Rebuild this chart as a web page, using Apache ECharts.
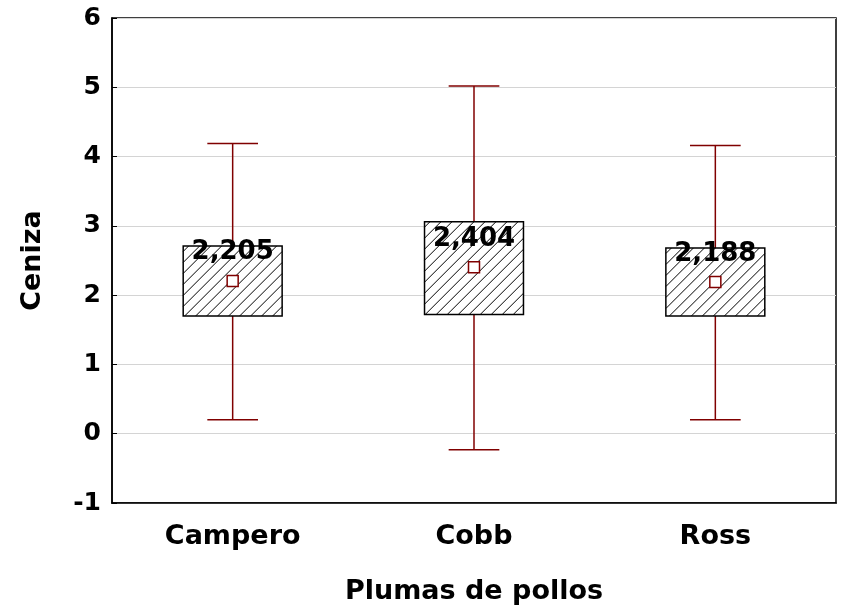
<!DOCTYPE html>
<html><head><meta charset="utf-8">
<script src="https://cdn.jsdelivr.net/npm/echarts@6/dist/echarts.min.js"></script>
<style>html,body{margin:0;padding:0;background:#fff}#c{width:844px;height:611px}</style>
</head><body><div id="c"></div>
<script>
const categories = ['Campero', 'Cobb', 'Ross'];
const whiskerLow = [0.20, -0.23, 0.20];
const boxLow = [1.70, 1.72, 1.70];
const means = [2.205, 2.404, 2.188];
const boxHigh = [2.71, 3.06, 2.68];
const whiskerHigh = [4.19, 5.02, 4.16];
const meanLabels = ['2,205', '2,404', '2,188'];
const yTicks = [-1, 0, 1, 2, 3, 4, 5, 6];

const maroon = '#800000';
const FONT = '"DejaVu Sans", sans-serif';

const boxData = categories.map((c, i) => [i, whiskerLow[i], boxLow[i], boxHigh[i], whiskerHigh[i]]);

function renderBox(params, api) {
  const i = api.value(0);
  const pLow = api.coord([i, api.value(1)]);
  const pB0 = api.coord([i, api.value(2)]);
  const pB1 = api.coord([i, api.value(3)]);
  const pHigh = api.coord([i, api.value(4)]);
  const band = api.size([1, 0])[0];
  const bw = band * 0.41;
  const cw = band * 0.21;
  const x = pLow[0];
  const children = [];
  const ls = {stroke: maroon, lineWidth: 1.5};
  children.push({type: 'line', shape: {x1: x, y1: pLow[1], x2: x, y2: pHigh[1]}, style: ls});
  children.push({type: 'line', shape: {x1: x - cw/2, y1: pLow[1], x2: x + cw/2, y2: pLow[1]}, style: ls});
  children.push({type: 'line', shape: {x1: x - cw/2, y1: pHigh[1], x2: x + cw/2, y2: pHigh[1]}, style: ls});
  const x0 = x - bw/2, x1 = x + bw/2, y0 = pB1[1], y1 = pB0[1];
  children.push({type: 'rect', shape: {x: x0, y: y0, width: bw, height: y1 - y0}, style: {fill: '#fff', stroke: null}});
  const step = 11;
  for (let c = x0 + y0 + step/2; c < x1 + y1; c += step) {
    const sx = Math.max(x0, c - y1), ex = Math.min(x1, c - y0);
    if (ex > sx) {
      children.push({type: 'line', shape: {x1: sx, y1: c - sx, x2: ex, y2: c - ex}, style: {stroke: '#000', lineWidth: 1}});
    }
  }
  children.push({type: 'rect', shape: {x: x0, y: y0, width: bw, height: y1 - y0}, style: {fill: 'none', stroke: '#000', lineWidth: 1.5}});
  return {type: 'group', children};
}

const chart = echarts.init(document.getElementById('c'));
chart.setOption({
  animation: false,
  backgroundColor: '#fff',
  grid: {left: 112, right: 8, top: 18, bottom: 108, show: true, borderColor: '#000', borderWidth: 1.5, backgroundColor: 'transparent'},
  xAxis: {
    type: 'category', data: categories, boundaryGap: true,
    name: 'Plumas de pollos', nameLocation: 'middle', nameGap: 75,
    nameTextStyle: {fontFamily: FONT, fontWeight: 'bold', fontSize: 27, color: '#000'},
    axisLine: {onZero: false, lineStyle: {color: '#000', width: 1.5}},
    axisTick: {inside: true, length: 5, alignWithLabel: true, lineStyle: {color: '#000'}},
    axisLabel: {fontFamily: FONT, fontWeight: 'bold', fontSize: 27, color: '#000', margin: 20},
    splitLine: {show: false}
  },
  yAxis: {
    type: 'value', min: -1, max: 6, interval: 1,
    name: 'Ceniza', nameLocation: 'middle', nameGap: 66, nameRotate: 90,
    nameTextStyle: {fontFamily: FONT, fontWeight: 'bold', fontSize: 27, color: '#000'},
    axisLine: {show: true, lineStyle: {color: '#000', width: 1.5}},
    axisTick: {show: true, inside: true, length: 5, lineStyle: {color: '#000'}},
    axisLabel: {fontFamily: FONT, fontWeight: 'bold', fontSize: 25, color: '#000', margin: 11,
      formatter: v => yTicks.includes(v) ? String(v) : ''},
    splitLine: {show: true, lineStyle: {color: '#d4d4d4', width: 1}}
  },
  series: [
    {type: 'custom', renderItem: renderBox, data: boxData, encode: {x: 0, y: [1, 2, 3, 4]}, z: 2},
    {type: 'scatter', data: means.map((m, i) => [i, m]), symbol: 'rect', symbolSize: 11, z: 3,
      itemStyle: {color: '#fff', borderColor: maroon, borderWidth: 1.5, opacity: 1},
      label: {show: true, position: 'top', distance: 9,
        formatter: p => meanLabels[p.dataIndex],
        fontFamily: FONT, fontWeight: 'bold', fontSize: 26, color: '#000'}}
  ]
});
</script></body></html>
